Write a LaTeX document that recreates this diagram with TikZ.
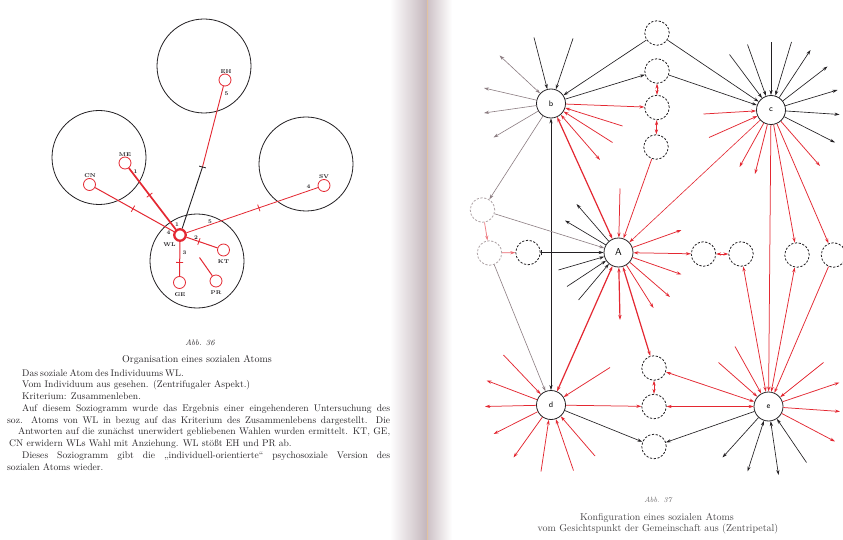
\documentclass[tikz,border=0pt]{standalone}
\usetikzlibrary{arrows.meta}
\definecolor{rd}{RGB}{228,40,50}
\definecolor{ink}{RGB}{35,32,35}
\definecolor{fade}{RGB}{140,125,130}
\definecolor{gut}{RGB}{196,182,188}
\definecolor{txt}{RGB}{40,37,40}
\tikzset{
  bigc/.style={circle, draw=ink, line width=0.8pt, minimum size=94pt, inner sep=0pt},
  sm/.style={circle, draw=rd, line width=0.8pt, minimum size=12pt, inner sep=0pt},
  lab/.style={font=\fontsize{5.5}{6}\selectfont\bfseries, text=ink, inner sep=0pt},
  rline/.style={draw=rd, line width=1pt},
  tickmark/.style={sloped, draw=rd, line width=0.8pt, minimum width=0pt, minimum height=7pt, inner sep=0pt, outer sep=0pt},
  main/.style={circle, draw=ink, line width=0.8pt, minimum size=29pt, inner sep=0pt, font=\sffamily\fontsize{8}{8}\selectfont},
  dc/.style={circle, draw=ink, line width=0.8pt, dash pattern=on 2.2pt off 1.6pt, minimum size=24.5pt, inner sep=0pt},
  fc/.style={dc, draw=fade!70},
  bk/.style={draw=ink, line width=0.65pt},
  gr/.style={draw=fade, line width=0.6pt},
  rr/.style={draw=rd, line width=0.75pt},
  rt/.style={draw=rd, line width=1.2pt},
  body/.style={anchor=base west, inner sep=0pt, text=txt, font=\fontsize{9.6}{12}\selectfont},
  capt/.style={anchor=base, inner sep=0pt, text=txt, font=\fontsize{10}{12}\selectfont},
}
\begin{document}
\begin{tikzpicture}[x=1pt,y=-1pt,>={Stealth[length=5pt,width=3.2pt]}]
\useasboundingbox (0,0) rectangle (843,540);
\fill[white] (0,0) rectangle (843,540);
% gutter
\shade[left color=white, right color=gut] (390,0) rectangle (427,540);
\shade[left color=gut!85, right color=white] (427,0) rectangle (452,540);
\draw[draw={rgb,255:red,225;green,195;blue,160}, line width=0.8pt] (427,0) -- (427,540);

% ===== left diagram =====
\node[bigc] (C1) at (204,66) {};
\node[bigc] (C2) at (99,157.5) {};
\node[bigc] (C3) at (306,164) {};
\node[bigc] (C4) at (197,261) {};
\node[sm] (EH) at (225,80) {};
\node[sm] (ME) at (125,163) {};
\node[sm] (CN) at (89.5,184.5) {};
\node[sm] (SV) at (324,185.5) {};
\node[sm, line width=2.3pt, minimum size=11.5pt] (WL) at (180,235) {};
\node[sm] (KT) at (223.5,250) {};
\node[sm] (GE) at (179.5,282.5) {};
\node[sm] (PR) at (216,281) {};
\coordinate (P) at (202.5,167);
\coordinate (Q) at (199.5,257.5);
\draw[rline, line width=0.9pt] (EH) -- (P) node[pos=1, tickmark, draw=ink]{};
\draw[draw=ink, line width=0.9pt] (P) -- (WL);
\draw[rline, line width=1.7pt] (ME) -- node[pos=0.44, tickmark]{} (WL);
\draw[rline] (CN) -- node[pos=0.48, tickmark]{} (WL);
\draw[rline, line width=0.8pt] (WL) -- node[pos=0.55, tickmark]{} (SV);
\draw[rline] (WL) -- node[pos=0.4, tickmark]{} (KT);
\draw[rline] (WL) -- node[pos=0.6, tickmark]{} (GE);
\draw[rline] (Q) -- (PR);
\node[lab] (tEH) at (226,72) {EH};
\node[lab] (n5a) at (226.5,94) {5};
\node[lab] (tME) at (125,155) {ME};
\node[lab] (n1a) at (135.5,171.5) {1};
\node[lab] (tCN) at (90,176) {CN};
\node[lab] (tSV) at (324,177) {SV};
\node[lab] (n4a) at (308.5,186.5) {4};
\node[lab] (n1b) at (177,225) {1};
\node[lab] (n4b) at (168.5,232.5) {4};
\node[lab] (tWL) at (169.5,245) {WL};
\node[lab] (n5b) at (210,221.5) {5};
\node[lab] (n2) at (196,238) {2};
\node[lab] (n3) at (184.5,252.5) {3};
\node[lab] (tKT) at (223.5,262) {KT};
\node[lab] (tGE) at (180,295) {GE};
\node[lab] (tPR) at (216,292.5) {PR};

% ===== left text =====
\node[capt, font=\fontsize{8}{10}\selectfont\itshape] (abb36) at (200,345.5) {Abb. 36};
\node[capt] (tit36) at (197,362) {Organisation eines sozialen Atoms};
\node[body] (l1) at (22,376) {\makebox[153pt][s]{Das soziale Atom des Individuums WL.}};
\node[body] (l2) at (22,387.75) {\makebox[228pt][s]{Vom Individuum aus gesehen. (Zentrifugaler Aspekt.)}};
\node[body] (l3) at (22,399.5) {Kriterium: Zusammenleben.};
\node[body] (l4) at (22,411.25) {\makebox[368pt][s]{Auf diesem Soziogramm wurde das Ergebnis einer eingehenderen Untersuchung des}};
\node[body] (l5) at (7,423) {\makebox[383pt][s]{soz. Atoms von WL in bezug auf das Kriterium des Zusammenlebens dargestellt. Die}};
\node[body] (l6) at (18,434.75) {\makebox[372pt][s]{Antworten auf die zunächst unerwidert gebliebenen Wahlen wurden ermittelt. KT, GE,}};
\node[body] (l7) at (9,446.5) {CN erwidern WLs Wahl mit Anziehung. WL stößt EH und PR ab.};
\node[body] (l8) at (22,458.25) {\makebox[368pt][s]{Dieses Soziogramm gibt die „individuell-orientierte“ psychosoziale Version des}};
\node[body] (l9) at (7,470) {sozialen Atoms wieder.};

% ===== right diagram =====
\node[main] (b) at (551,103.5) {b};
\node[main] (c) at (771,110) {c};
\node[main, font=\sffamily\fontsize{10}{10}\selectfont] (A) at (618.5,252.5) {A};
\node[main] (d) at (551,405) {d};
\node[main] (e) at (768.5,406.5) {e};
\node[dc] (T1) at (657,33) {};
\node[dc] (T2) at (657,71) {};
\node[dc] (T3) at (657,107.5) {};
\node[dc] (T4) at (656,147) {};
\node[fc] (L1) at (482.5,210) {};
\node[fc] (L2) at (489.5,253) {};
\node[dc] (L3) at (528,252.5) {};
\node[dc] (R1) at (703.5,254) {};
\node[dc] (R2) at (741,254) {};
\node[dc] (R3) at (797,255) {};
\node[dc] (R4) at (833.5,255) {};
\node[dc] (M1) at (654,368) {};
\node[dc] (M2) at (654,406.5) {};
\node[dc] (M3) at (654,446.5) {};

\foreach \n/\x/\y in {bi1/534/37.5, bi2/573/38.5, bo1/499.5/55.5, bo2/484/88, bo3/484/113, bo4/493.5/137.5, br1/622.5/126, br2/612.5/142.5, br3/600/160,
 ci1/729.5/54.5, ci2/747.5/44.5, ci3/771/42.5, ci4/791.5/42, co1/810.5/50, co2/827.5/66.5, co3/837.5/90, co4/839.5/114.5, co5/835/142.5, cr1/703.5/114, cr2/709/137.5, cr3/739.5/167, cr4/755/174, cr5/820/166,
 ai1/558.5/270, ai2/567/286.5, ai3/578.5/300, ao1/576.5/204, ao2/565/220.5, ar1/620/188.5, ar2/681.5/230, ar3/681.5/274.5, ar4/670/297, ar5/653.5/308, ar6/620/320,
 di1/610/367.5, di2/503.5/355, do1/486.5/380.5, do2/485/406.5, do3/493.5/434, do4/513.5/457.5, di3/541/471.5, di4/573.5/470.5, di5/595/456,
 ei1/718.5/362.5, ei2/735/346.5, ei3/823.5/362.5, eo1/839.5/382.5, eo2/840/411.5, eo3/835/441.5, eb1/722.5/457.5, eb2/747.5/471.5, eb3/778.5/475, eb4/806.5/462.5}
  \coordinate (\n) at (\x,\y);

% b
\draw[bk,->] (bi1) -- (b);
\draw[bk,->] (bi2) -- (b);
\draw[gr,<->] (b) -- (bo1);
\draw[gr,->] (b) -- (bo2);
\draw[gr,->] (b) -- (bo3);
\draw[gr,->] (b) -- (bo4);
\draw[gr,->] (b) -- (L1);
\draw[bk,<->] (b) -- (d);
\draw[bk,->] (T1) -- (b);
\draw[bk,->] (b) -- (T2);
\draw[rr,->] (b) -- (T3);
\draw[rr,->] (br1) -- (b);
\draw[rr,->] (br2) -- (b);
\draw[rr,<->] (b) -- (br3);
\draw[rt,<->] (b) -- (A);
\draw[bk,->] (T1) -- (c);
\draw[bk,->] (T2) -- (c);
\draw[rr,<->] (T2) -- (T3);
\draw[rr,<->] (T3) -- (T4);
\draw[rr,->] (T4) -- (A);
% c
\foreach \p in {ci1,ci2,ci3,ci4} \draw[bk,->] (\p) -- (c);
\foreach \p in {co1,co2,co3,co4,co5} \draw[bk,->] (c) -- (\p);
\foreach \p in {cr1,cr2} \draw[rr,->] (\p) -- (c);
\foreach \p in {cr3,cr4,cr5} \draw[rr,->] (c) -- (\p);
\draw[rr,line width=0.6pt,->] (c) -- (A);
\draw[rr,->] (c) -- (e);
\draw[rr,->] (c) -- (R3);
\draw[rr,->] (c) -- (R4);
% A
\draw[gr,->] (L1) -- (A);
\draw[bk,|->] (L3) -- (A);
\foreach \p in {ai1,ai2,ai3} \draw[bk,->] (\p) -- (A);
\foreach \p in {ao1,ao2} \draw[bk,->] (A) -- (\p);
\draw[rr,->] (ar1) -- (A);
\foreach \p in {ar2,ar3,ar4,ar5} \draw[rr,->] (A) -- (\p);
\draw[rt,<->] (A) -- (ar6);
\draw[rr,<->] (A) -- (R1);
\draw[rt,<->] (A) -- (M1);
\draw[rt,<->] (A) -- (d);
% left faded group
\draw[rr,draw=rd!60,->] (L1) -- (L2);
\draw[rr,draw=rd!70,->] (L2) -- (L3);
\draw[gr,->] (L2) -- (d);
\draw[rr,<->] (R1) -- (R2);
% d
\foreach \p in {di1,di2,di3,di4,di5} \draw[rr,->] (\p) -- (d);
\foreach \p in {do1,do2,do3,do4} \draw[rr,->] (d) -- (\p);
\draw[rr,->] (d) -- (M2);
\draw[bk,->] (d) -- (M3);
\draw[rr,<->] (M1) -- (M2);
\draw[rr,<->] (M1) -- (e);
\draw[rr,<->] (M2) -- (e);
\draw[bk,->] (e) -- (M3);
% e
\foreach \p in {ei1,ei2,ei3} \draw[rr,->] (\p) -- (e);
\foreach \p in {eo1,eo2,eo3} \draw[rr,->] (e) -- (\p);
\draw[rr,<->] (R2) -- (e);
\draw[rr,<->] (R3) -- (e);
\draw[rr,->] (R4) -- (e);
\draw[bk,->] (e) -- (eb1);
\draw[bk,<->] (e) -- (eb2);
\draw[bk,<->] (e) -- (eb3);
\draw[bk,->] (eb4) -- (e);

% right caption
\node[capt, font=\fontsize{7.5}{9}\selectfont\itshape, text=txt!70] (abb37) at (658,502) {Abb. 37};
\node[capt, text=txt!85] (tit37a) at (657,520) {Konfiguration eines sozialen Atoms};
\node[capt, text=txt!85] (tit37b) at (658,531) {vom Gesichtspunkt der Gemeinschaft aus (Zentripetal)};
\end{tikzpicture}
\end{document}
